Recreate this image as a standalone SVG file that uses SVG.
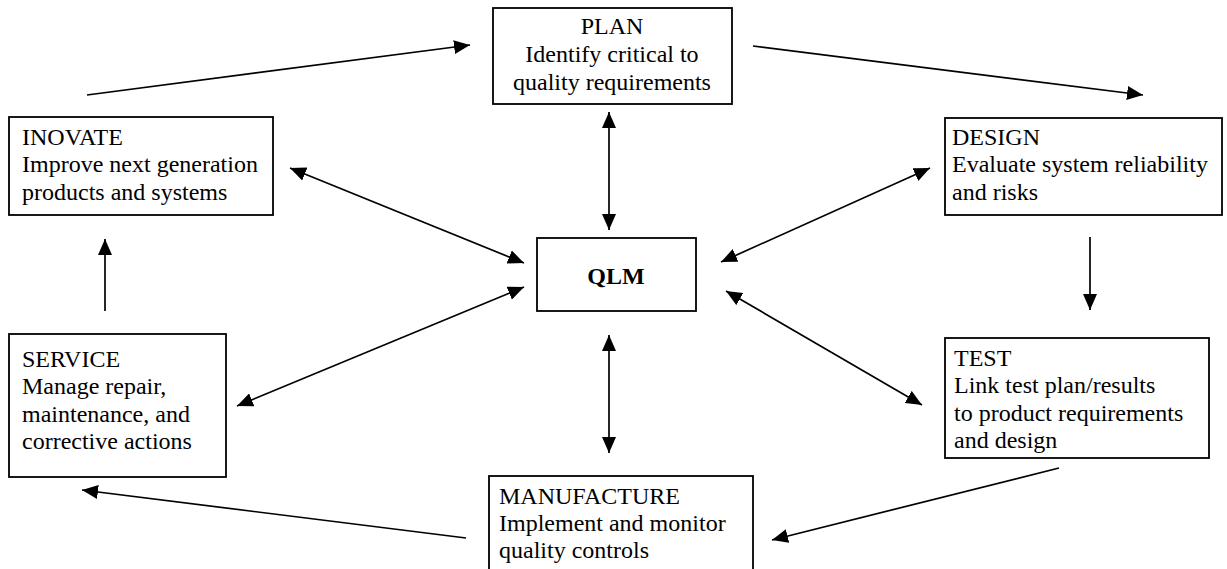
<svg xmlns="http://www.w3.org/2000/svg" width="1227" height="569" viewBox="0 0 1227 569">
<defs>
<marker id="ah" viewBox="0 0 16 14" refX="16" refY="7" markerWidth="16" markerHeight="14" markerUnits="userSpaceOnUse" orient="auto-start-reverse">
<path d="M0,0 L16,7 L0,14 z" fill="#000"/>
</marker>
<style>
.box{fill:#fff;stroke:#000;stroke-width:1.8}
.t{font-family:"Liberation Serif","Times New Roman",serif;font-size:24px;fill:#000}
.c{text-anchor:middle}
.b{font-weight:bold}
.ln{stroke:#000;stroke-width:1.7;fill:none}
.one{marker-end:url(#ah)}
.two{marker-start:url(#ah);marker-end:url(#ah)}
</style>
</defs>
<rect width="1227" height="569" fill="#fff"/>
<g id="connectors">
<line class="ln one" x1="87" y1="95" x2="470" y2="45"/>
<line class="ln one" x1="753" y1="46" x2="1143" y2="95"/>
<line class="ln one" x1="1090" y1="237" x2="1090" y2="310"/>
<line class="ln one" x1="1059" y1="468" x2="772" y2="540"/>
<line class="ln one" x1="466" y1="538" x2="82" y2="490"/>
<line class="ln one" x1="105" y1="311" x2="105" y2="239"/>
<line class="ln two" x1="609" y1="112" x2="609" y2="230"/>
<line class="ln two" x1="609" y1="335" x2="609" y2="453"/>
<line class="ln two" x1="290" y1="168" x2="524" y2="263"/>
<line class="ln two" x1="930" y1="168" x2="721" y2="262"/>
<line class="ln two" x1="237" y1="406" x2="524" y2="287"/>
<line class="ln two" x1="922" y1="405" x2="726" y2="291"/>
</g>
<g id="plan">
<rect class="box" x="493" y="8" width="239" height="96"/>
<text class="t c" x="612" y="34">PLAN</text>
<text class="t c" x="612" y="62">Identify critical to</text>
<text class="t c" x="612" y="90">quality requirements</text>
</g>
<g id="inovate">
<rect class="box" x="9" y="117" width="264" height="98"/>
<text class="t" x="22" y="145">INOVATE</text>
<text class="t" x="22" y="172">Improve next generation</text>
<text class="t" x="22" y="200">products and systems</text>
</g>
<g id="design">
<rect class="box" x="945" y="118" width="277" height="97"/>
<text class="t" x="952" y="145">DESIGN</text>
<text class="t" x="952" y="172">Evaluate system reliability</text>
<text class="t" x="952" y="200">and risks</text>
</g>
<g id="qlm">
<rect class="box" x="537" y="238" width="159" height="73"/>
<text class="t c b" x="616" y="284">QLM</text>
</g>
<g id="service">
<rect class="box" x="9" y="334" width="217" height="143"/>
<text class="t" x="22" y="367">SERVICE</text>
<text class="t" x="22" y="394">Manage repair,</text>
<text class="t" x="22" y="422">maintenance, and</text>
<text class="t" x="22" y="449">corrective actions</text>
</g>
<g id="test">
<rect class="box" x="945" y="338" width="264" height="120"/>
<text class="t" x="954" y="366">TEST</text>
<text class="t" x="954" y="393">Link test plan/results</text>
<text class="t" x="954" y="421">to product requirements</text>
<text class="t" x="954" y="448">and design</text>
</g>
<g id="manufacture">
<rect class="box" x="489" y="476" width="264" height="110"/>
<text class="t" x="499" y="504">MANUFACTURE</text>
<text class="t" x="499" y="531">Implement and monitor</text>
<text class="t" x="499" y="558">quality controls</text>
</g>
</svg>
